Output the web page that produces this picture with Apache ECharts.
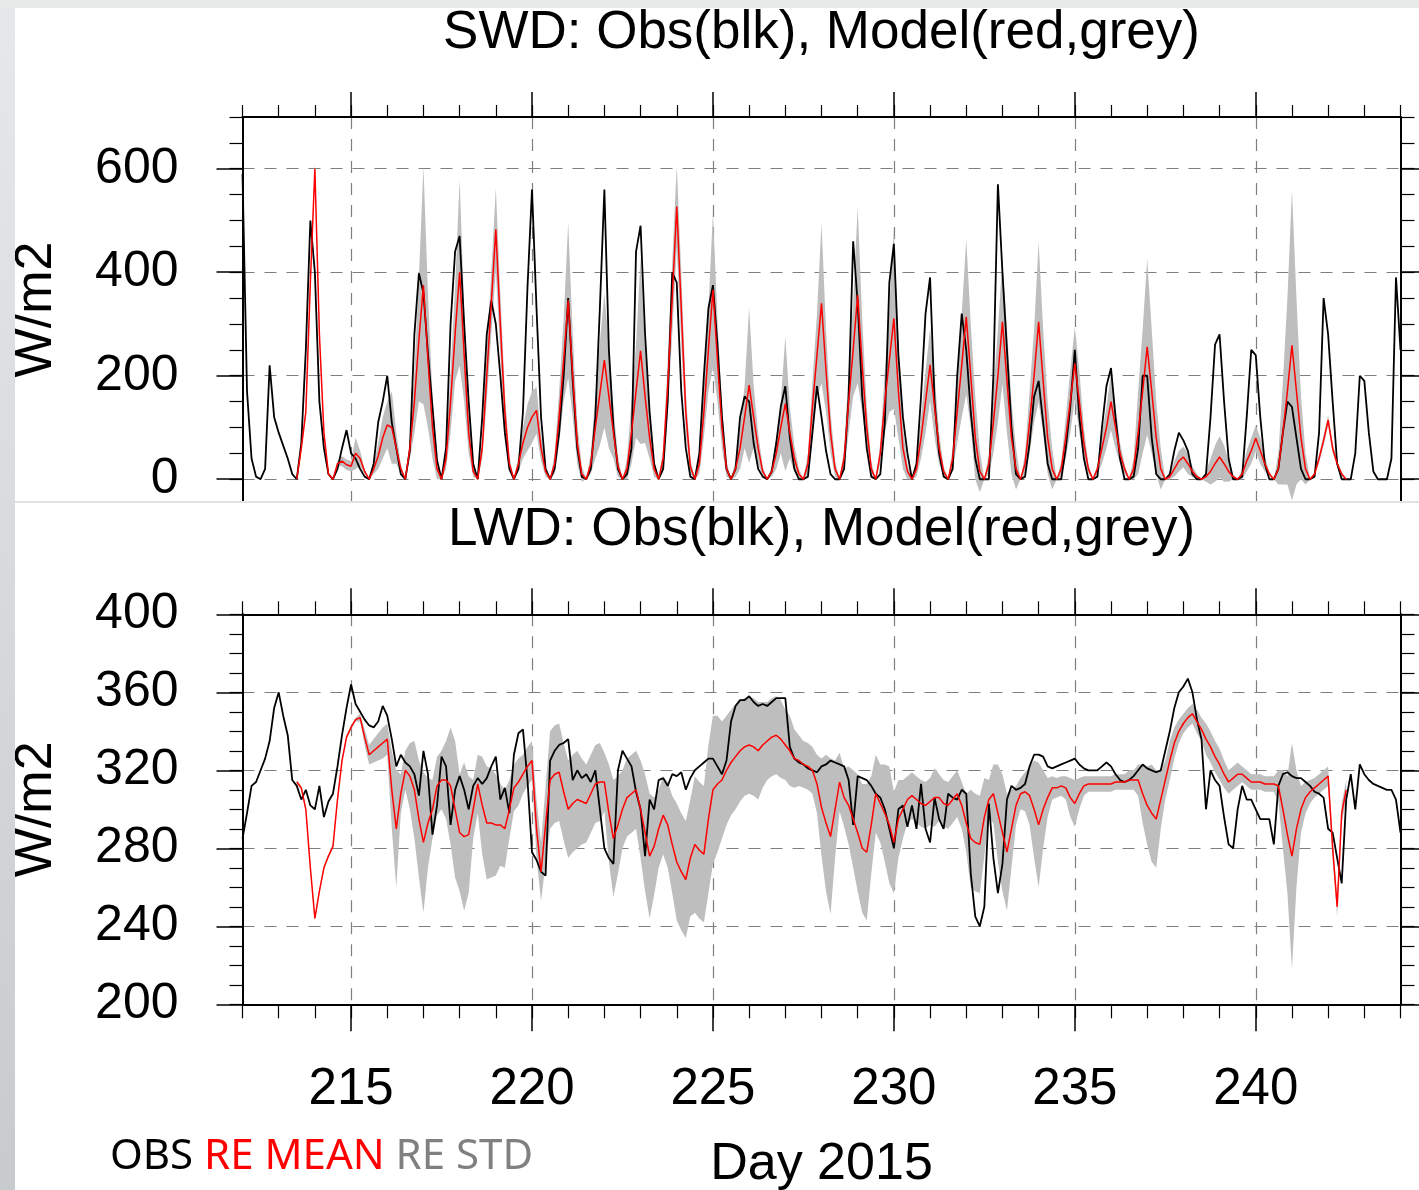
<!DOCTYPE html>
<html>
<head>
<meta charset="utf-8">
<title>SWD / LWD: Obs(blk), Model(red,grey)</title>
<script src="https://cdn.jsdelivr.net/npm/echarts@6.0.0/dist/echarts.min.js"></script>
<style>
  html, body { margin: 0; padding: 0; background: #fff; }
  #chart { width: 1419px; height: 1190px; }
</style>
</head>
<body>
<div id="chart"></div>
<script>
// 3-hourly samples, first one at day 212.0 (one row per day: 00,03,...,21 h)
const dayStart = 212
const stepsPerDay = 8

const swdObs = [
  590, 170, 40, 5, 0, 20, 220, 120, // 212
  90, 65, 40, 10, 0, 70, 250, 500,
  400, 150, 60, 10, 0, 20, 60, 95,
  50, 40, 20, 5, 0, 30, 110, 150, // 215
  200, 110, 60, 10, 0, 56, 280, 398,
  360, 243, 140, 37, 0, 60, 300, 440,
  470, 300, 150, 30, 0, 120, 280, 345,
  300, 200, 90, 20, 0, 20, 130, 370,
  560, 330, 120, 20, 0, 20, 90, 200, // 220
  350, 190, 60, 5, 0, 20, 120, 330,
  560, 250, 100, 20, 0, 10, 60, 440,
  490, 280, 130, 30, 0, 20, 150, 400,
  380, 170, 60, 5, 0, 50, 200, 330,
  375, 260, 120, 20, 0, 20, 120, 160, // 225
  150, 70, 20, 5, 0, 15, 70, 140,
  180, 80, 20, 0, 0, 5, 90, 180,
  120, 55, 10, 0, 0, 20, 160, 460,
  340, 160, 60, 5, 0, 10, 110, 380,
  455, 240, 120, 50, 0, 30, 160, 320, // 230
  390, 150, 50, 5, 0, 20, 200, 320,
  250, 130, 40, 0, 0, 0, 200, 570,
  400, 250, 100, 10, 0, 5, 70, 160,
  190, 110, 30, 0, 0, 0, 60, 140,
  250, 120, 40, 0, 0, 5, 100, 180, // 235
  215, 120, 40, 0, 0, 5, 60, 200,
  200, 80, 10, 0, 0, 10, 55, 90,
  75, 55, 10, 0, 0, 10, 120, 260,
  280, 150, 40, 0, 0, 5, 120, 250,
  240, 120, 30, 0, 0, 20, 90, 150, // 240
  140, 80, 20, 0, 0, 5, 90, 350,
  280, 150, 30, 0, 0, 0, 50, 200,
  190, 90, 15, 0, 0, 0, 40, 390,
  250 // 244
]

const swdMean = [
  null, null, null, null, null, null, null, null, // 212
  null, null, null, null, 0, 60, 130, 380,
  600, 280, 90, 10, 0, 30, 35, 28,
  25, 50, 40, 15, 0, 20, 45, 80, // 215
  105, 100, 60, 20, 0, 60, 150, 270,
  375, 230, 100, 20, 0, 40, 150, 280,
  400, 240, 90, 15, 0, 60, 200, 340,
  483, 300, 130, 30, 0, 30, 70, 100,
  120, 133, 60, 15, 0, 30, 120, 230, // 220
  346, 200, 70, 10, 0, 30, 100, 165,
  230, 160, 90, 25, 0, 20, 90, 170,
  248, 160, 80, 20, 0, 40, 180, 350,
  527, 330, 130, 25, 0, 30, 130, 250,
  366, 230, 100, 20, 0, 20, 60, 120, // 225
  182, 120, 60, 15, 0, 15, 50, 100,
  146, 90, 40, 10, 0, 30, 140, 240,
  340, 210, 90, 20, 0, 40, 150, 250,
  356, 220, 100, 20, 0, 50, 150, 230,
  311, 170, 60, 15, 0, 20, 80, 150, // 230
  221, 140, 60, 15, 0, 40, 130, 220,
  314, 200, 80, 15, 0, 30, 110, 200,
  304, 190, 80, 20, 0, 30, 110, 200,
  304, 190, 80, 20, 0, 20, 80, 150,
  224, 150, 70, 20, 0, 20, 60, 100, // 235
  150, 100, 50, 20, 0, 20, 90, 170,
  256, 170, 80, 20, 0, 5, 20, 35,
  43, 30, 15, 5, 0, 5, 15, 30,
  43, 30, 15, 5, 0, 10, 35, 55,
  79, 55, 30, 10, 0, 20, 90, 170, // 240
  259, 170, 80, 20, 0, 10, 40, 75,
  114, 60, 30, 10, 0, null, null, null,
  null, null, null, null, null, null, null, null,
  null
]

const swdStd = [
  null, null, null, null, null, null, null, null, // 212
  null, null, null, null, 0, 5, 8, 10,
  10, 10, 5, 0, 0, 5, 10, 10,
  10, 30, 15, 5, 0, 10, 25, 40, // 215
  45, 70, 30, 10, 0, 20, 60, 120,
  230, 130, 60, 20, 0, 20, 60, 90,
  180, 90, 40, 10, 0, 20, 50, 60,
  80, 60, 40, 15, 0, 15, 30, 45,
  50, 45, 25, 10, 0, 20, 50, 80, // 220
  150, 80, 40, 15, 0, 20, 60, 100,
  130, 100, 50, 20, 0, 20, 60, 90,
  180, 90, 40, 15, 0, 20, 50, 70,
  80, 70, 40, 15, 0, 20, 50, 80,
  150, 80, 40, 15, 0, 15, 40, 60, // 225
  150, 60, 30, 10, 0, 10, 30, 50,
  130, 50, 25, 10, 0, 20, 50, 80,
  155, 80, 40, 15, 0, 20, 60, 90,
  170, 90, 40, 15, 0, 20, 60, 100,
  175, 90, 40, 15, 0, 15, 40, 60, // 230
  70, 60, 30, 10, 0, 20, 60, 100,
  150, 100, 80, 40, 0, 20, 60, 90,
  120, 100, 70, 40, 0, 20, 60, 90,
  155, 100, 70, 40, 0, 15, 40, 60,
  70, 60, 30, 10, 0, 10, 30, 40, // 235
  55, 40, 20, 10, 0, 20, 80, 120,
  170, 120, 70, 40, 0, 5, 15, 20,
  20, 20, 10, 5, 0, 10, 25, 35,
  40, 35, 20, 5, 0, 10, 20, 25,
  25, 25, 15, 5, 0, 30, 100, 180, // 240
  300, 180, 80, 30, 0, 5, 8, 10,
  10, 10, 5, 5, 0, null, null, null,
  null, null, null, null, null, null, null, null,
  null
]

const lwdObs = [
  285, 298, 312, 314, 320, 326, 335, 352, // 212
  360, 348, 338, 315, 312, 305, 310, 302,
  300, 312, 296, 304, 308, 322, 338, 352,
  364, 354, 350, 346, 343, 342, 345, 353, // 215
  348, 336, 322, 328, 324, 322, 318, 307,
  330, 318, 287, 302, 327, 322, 292, 310,
  317, 310, 300, 312, 316, 313, 316, 322,
  327, 305, 311, 298, 328, 339, 341, 315,
  278, 274, 268, 266, 325, 330, 333, 334, // 220
  336, 315, 320, 316, 318, 314, 320, 300,
  280, 275, 272, 320, 330, 326, 322, 309,
  300, 276, 305, 300, 315, 316, 312, 318,
  317, 319, 310, 316, 320, 322, 324, 326,
  326, 322, 318, 325, 345, 353, 356, 356, // 225
  358, 355, 353, 354, 353, 355, 357, 357,
  357, 332, 326, 324, 323, 321, 320, 319,
  322, 323, 325, 324, 323, 322, 315, 292,
  317, 316, 315, 312, 308, 306, 300, 290,
  280, 300, 302, 291, 302, 290, 313, 290, // 230
  283, 306, 295, 290, 308, 306, 305, 310,
  308, 267, 245, 240, 250, 303, 275, 257,
  272, 305, 312, 310, 311, 313, 322, 328,
  328, 327, 322, 321, 322, 323, 324, 325,
  326, 323, 321, 320, 320, 320, 322, 324, // 235
  322, 318, 315, 314, 315, 317, 320, 323,
  321, 320, 319, 320, 330, 340, 352, 360,
  363, 367, 360, 346, 336, 300, 320, 315,
  312, 296, 282, 280, 300, 312, 305, 305,
  300, 295, 295, 295, 282, 312, 318, 319, // 240
  317, 316, 316, 314, 312, 309, 308, 306,
  290, 288, 275, 262, 305, 318, 300, 323,
  318, 315, 313, 312, 311, 310, 310, 305,
  288 // 244
]

const lwdMean = [
  null, null, null, null, null, null, null, null, // 212
  null, null, null, null, 314, 311, 300, 270,
  244, 258, 270, 276, 281, 305, 325, 337,
  342, 346, 347, 337, 328, 330, 332, 334, // 215
  336, 310, 290, 308, 320, 317, 310, 295,
  283, 293, 300, 312, 315, 315, 312, 300,
  288, 286, 287, 300, 313, 302, 293, 293,
  292, 292, 290, 300, 311, 314, 318, 322,
  325, 290, 268, 292, 315, 318, 319, 309, // 220
  300, 303, 305, 304, 303, 308, 313, 314,
  314, 298, 285, 292, 300, 306, 308, 310,
  300, 288, 276, 281, 290, 297, 292, 282,
  273, 268, 264, 275, 282, 279, 277, 295,
  310, 313, 315, 320, 324, 327, 330, 332, // 225
  333, 332, 330, 333, 335, 337, 338, 336,
  333, 330, 326, 325, 323, 322, 320, 313,
  301, 293, 286, 300, 314, 306, 302, 295,
  288, 280, 278, 292, 308, 303, 298, 292,
  283, 295, 300, 305, 307, 305, 303, 302, // 230
  304, 306, 306, 303, 302, 305, 308, 302,
  293, 285, 283, 282, 296, 305, 308, 298,
  288, 278, 290, 302, 308, 309, 307, 300,
  292, 300, 306, 311, 311, 312, 311, 306,
  303, 308, 312, 313, 313, 313, 313, 313, // 235
  313, 314, 314, 314, 315, 315, 315, 308,
  302, 298, 295, 305, 315, 325, 334, 340,
  344, 347, 349, 345, 341, 336, 332, 327,
  323, 318, 314, 316, 318, 318, 316, 314,
  314, 314, 313, 313, 313, 312, 300, 287, // 240
  276, 290, 300, 306, 309, 311, 313, 315,
  317, 280, 250, 298, 310, null, null, null,
  null, null, null, null, null, null, null, null,
  null
]

const lwdStd = [
  null, null, null, null, null, null, null, null, // 212
  null, null, null, null, 1, 1, 1, 1,
  1, 1, 1, 1, 1, 1, 1, 1,
  1, 1, 2, 4, 5, 6, 7, 8, // 215
  8, 20, 30, 10, 10, 17, 25, 30,
  36, 23, 15, 15, 15, 20, 30, 35,
  30, 38, 30, 15, 15, 25, 29, 28,
  26, 21, 20, 15, 12, 12, 10, 10,
  10, 15, 15, 20, 25, 25, 25, 25, // 220
  25, 25, 25, 22, 20, 20, 20, 20,
  15, 25, 30, 25, 20, 20, 20, 20,
  25, 30, 32, 25, 20, 20, 22, 25,
  30, 30, 30, 30, 35, 35, 35, 38,
  38, 35, 30, 28, 27, 27, 26, 25, // 225
  25, 25, 25, 22, 20, 20, 20, 20,
  18, 18, 15, 13, 12, 12, 12, 15,
  25, 35, 40, 25, 15, 15, 20, 25,
  30, 33, 35, 25, 20, 20, 25, 30,
  26, 20, 15, 12, 12, 12, 12, 12, // 230
  12, 15, 12, 12, 12, 12, 12, 12,
  15, 25, 25, 25, 20, 10, 15, 25,
  30, 30, 20, 10, 8, 10, 15, 25,
  32, 20, 10, 6, 5, 5, 6, 10,
  12, 8, 5, 4, 4, 4, 4, 4, // 235
  4, 4, 4, 4, 5, 5, 8, 15,
  20, 25, 25, 15, 10, 10, 8, 6,
  5, 5, 5, 6, 6, 8, 8, 8,
  8, 7, 6, 6, 6, 4, 4, 4,
  4, 4, 4, 4, 4, 8, 20, 30, // 240
  58, 30, 12, 8, 6, 5, 5, 5,
  5, 5, 5, 5, 5, null, null, null,
  null, null, null, null, null, null, null, null,
  null
]

// tick labels
const dayTicks = [215, 220, 225, 230, 235, 240]
const swdTicks = [0, 200, 400, 600]
const swdMinorTicks = [0, 50, 100, 150, 200, 250, 300, 350, 400, 450, 500, 550, 600, 650, 700]
const legendNames = ['OBS', 'RE MEAN', 'RE STD']

const days = swdObs.map((v, i) => dayStart + i / stepsPerDay)

const FONT = 'Liberation Sans'
const chart = echarts.init(document.getElementById('chart'))

// 坐标轴默认全部隐藏，按需打开
function axis (o) {
  return Object.assign({
    type: 'value',
    axisLine: { show: false, onZero: false },
    axisTick: { show: false },
    axisLabel: { show: false },
    splitLine: { show: false },
    axisPointer: { show: false }
  }, o)
}
function border () {
  return { show: true, onZero: false, lineStyle: { color: '#000', width: 2 } }
}
function ticks (len, values, width) {
  return { show: true, inside: false, length: len, customValues: values, lineStyle: { color: '#000', width: width } }
}
const dashed = { show: true, lineStyle: { color: '#7f7f7f', width: 1.2, type: [12, 10] } }
const nameStyle = { fontSize: 52, fontFamily: FONT, color: '#000' }

function pairs (vals) {
  return vals.map((v, i) => [days[i], v])
}
// 均值 ± 标准差 的灰色带：一个多边形，顶点由坐标系换算
function band (xi, yi, mean, std) {
  const rows = []
  mean.forEach((m, i) => {
    if (m != null) rows.push([days[i], m - std[i], m + std[i]])
  })
  return {
    type: 'custom', xAxisIndex: xi, yAxisIndex: yi, data: rows, clip: true, silent: true, z: 1,
    encode: { x: 0, y: [1, 2] },
    renderItem (params, api) {
      if (params.dataIndex !== 0) return null
      const upper = rows.map(r => api.coord([r[0], r[2]]))
      const lower = rows.map(r => api.coord([r[0], r[1]])).reverse()
      return { type: 'polygon', shape: { points: upper.concat(lower) }, style: { fill: '#bebebe' } }
    }
  }
}
function curve (xi, yi, vals, color, width) {
  return {
    type: 'line', xAxisIndex: xi, yAxisIndex: yi, data: pairs(vals), symbol: 'none',
    silent: true, z: 3, lineStyle: { color: color, width: width }
  }
}

const option = {
  animation: false,
  backgroundColor: '#fff',
  title: [
    {
      text: 'SWD: Obs(blk), Model(red,grey)', left: 821.5, top: 7, padding: 0,
      textStyle: { fontSize: 53, fontWeight: 'normal', fontFamily: FONT, color: '#000' }
    },
    {
      text: 'LWD: Obs(blk), Model(red,grey)', left: 821.5, top: 504, padding: 0,
      textStyle: { fontSize: 53, fontWeight: 'normal', fontFamily: FONT, color: '#000' }
    },
    {
      text: '{o|' + legendNames[0] + '} {r|' + legendNames[1] + '} {g|' + legendNames[2] + '}',
      left: 110, top: 1136, textAlign: 'left', padding: 0,
      textStyle: {
        fontSize: 42, fontWeight: 'normal', fontFamily: 'Noto Sans', color: '#000',
        rich: {
          o: { color: '#000', fontSize: 42, fontFamily: 'Noto Sans' },
          r: { color: '#ff0000', fontSize: 42, fontFamily: 'Noto Sans' },
          g: { color: '#808080', fontSize: 42, fontFamily: 'Noto Sans' }
        }
      }
    }
  ],
  grid: [
    { left: 242.5, right: 18.5, top: 117, height: 385, containLabel: false, outerBoundsMode: 'none' },
    { left: 242.5, right: 18.5, top: 614.3, height: 390, containLabel: false, outerBoundsMode: 'none' }
  ],
  xAxis: [
    // SWD
    axis({ gridIndex: 0, position: 'top', min: 212, max: 244, interval: 1, axisLine: border(), axisTick: ticks(12, null, 1.2) }),
    axis({ gridIndex: 0, position: 'top', min: 212, max: 244, axisTick: ticks(25, dayTicks, 1.5), splitLine: dashed }),
    // LWD
    axis({ gridIndex: 1, position: 'top', min: 212, max: 244, interval: 1, axisLine: border(), axisTick: ticks(13, null, 1.2) }),
    axis({ gridIndex: 1, position: 'top', min: 212, max: 244, axisTick: ticks(26, dayTicks, 1.5), splitLine: dashed }),
    axis({ gridIndex: 1, position: 'bottom', min: 212, max: 244, interval: 1, axisLine: border(), axisTick: ticks(14, null, 1.2) }),
    axis({
      gridIndex: 1, position: 'bottom', min: 212, max: 244,
      axisTick: ticks(27, dayTicks, 1.5),
      axisLabel: { show: true, customValues: dayTicks, margin: 60, fontSize: 51, fontFamily: FONT, color: '#000' },
      name: 'Day 2015', nameLocation: 'middle', nameGap: 134, nameTextStyle: nameStyle
    })
  ],
  yAxis: [
    // SWD
    axis({ gridIndex: 0, position: 'left', min: -44, max: 700, axisLine: border(), axisTick: ticks(13, swdMinorTicks, 1.2) }),
    axis({
      gridIndex: 0, position: 'left', min: -44, max: 700,
      axisTick: ticks(26, swdTicks, 1.5), splitLine: dashed,
      axisLabel: { show: true, customValues: swdTicks, margin: 64, fontSize: 50, fontFamily: FONT, color: '#000' },
      name: 'W/m2', nameLocation: 'middle', nameGap: 180, nameTextStyle: nameStyle
    }),
    axis({ gridIndex: 0, position: 'right', min: -44, max: 700, axisLine: border(), axisTick: ticks(14, swdMinorTicks, 1.2) }),
    axis({ gridIndex: 0, position: 'right', min: -44, max: 700, axisTick: ticks(26, swdTicks, 1.5) }),
    // LWD
    axis({ gridIndex: 1, position: 'left', min: 200, max: 400, interval: 10, axisLine: border(), axisTick: ticks(13, null, 1.2) }),
    axis({
      gridIndex: 1, position: 'left', min: 200, max: 400, interval: 40,
      axisTick: ticks(26, null, 1.5), splitLine: dashed,
      axisLabel: { show: true, margin: 64, fontSize: 50, fontFamily: FONT, color: '#000' },
      name: 'W/m2', nameLocation: 'middle', nameGap: 180, nameTextStyle: nameStyle
    }),
    axis({ gridIndex: 1, position: 'right', min: 200, max: 400, interval: 10, axisLine: border(), axisTick: ticks(14, null, 1.2) }),
    axis({ gridIndex: 1, position: 'right', min: 200, max: 400, interval: 40, axisTick: ticks(26, null, 1.5) })
  ],
  series: [
    band(0, 0, swdMean, swdStd),
    curve(0, 0, swdObs, '#000', 1.8),
    curve(0, 0, swdMean, '#ff0000', 1.5),
    band(4, 4, lwdMean, lwdStd),
    curve(4, 4, lwdObs, '#000', 1.8),
    curve(4, 4, lwdMean, '#ff0000', 1.5)
  ],
  graphic: [
    {
      type: 'rect', x: 0, y: 0, shape: { width: 15, height: 1190 }, silent: true, z: 100,
      style: {
        fill: new echarts.graphic.LinearGradient(0, 0, 0, 1, [
          { offset: 0, color: '#e6e8e9' },
          { offset: 1, color: '#c8cbcd' }
        ])
      }
    },
    { type: 'rect', x: 0, y: 0, shape: { width: 1419, height: 8 }, silent: true, z: 100, style: { fill: '#e8eaea' } },
    { type: 'rect', x: 15, y: 501, shape: { width: 1404, height: 2 }, silent: true, z: 100, style: { fill: '#e3e3e3' } }
  ]
}
// 标题以网格中线居中
option.title[0].textAlign = 'center'
option.title[1].textAlign = 'center'
chart.setOption(option)
</script>
</body>
</html>
